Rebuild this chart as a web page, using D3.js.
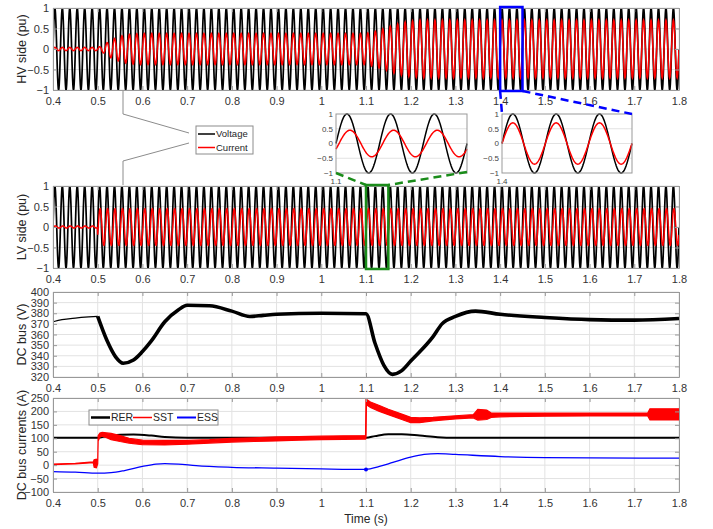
<!DOCTYPE html>
<html>
<head>
<meta charset="utf-8">
<script src="https://cdn.jsdelivr.net/npm/d3@7"></script>
<style>
  body { margin: 0; background: #fff; }
  svg { font-family: "Liberation Sans", Arial, sans-serif; }
</style>
</head>
<body>
<svg id="chart" width="713" height="529"></svg>
<script>
// ---- values ----
const xTicks = [0.4, 0.5, 0.6, 0.7, 0.8, 0.9, 1, 1.1, 1.2, 1.3, 1.4, 1.5, 1.6, 1.7, 1.8];
const puTicks = [-1, -0.5, 0, 0.5, 1];
const dcTicks = [320, 330, 340, 350, 360, 370, 380, 390, 400];
const curTicks = [-100, -50, 0, 50, 100, 150, 200, 250];

const gridFreq = 60; // Hz, the voltage is a unit sine

// HV side current amplitude (pu) over time, in phase with voltage
const hvCurTime = [0.4, 0.5, 0.51, 0.52, 0.53, 0.54, 0.55, 0.56, 0.58, 0.6, 1.1, 1.12, 1.14, 1.16, 1.18, 1.2, 1.22, 1.8];
const hvCurAmp  = [0.04, 0.04, 0.08, 0.15, 0.22, 0.27, 0.31, 0.34, 0.37, 0.38, 0.38, 0.43, 0.5, 0.58, 0.64, 0.68, 0.7, 0.7];

// LV side current amplitude (pu), lags voltage a little
const lvCurTime = [0.4, 0.4995, 0.5, 1.8];
const lvCurAmp  = [0.025, 0.025, 0.45, 0.45];
const lvCurLag = 25; // degrees

// DC bus voltage (V)
const dcTime = [0.4, 0.42, 0.45, 0.48, 0.5, 0.52, 0.54, 0.557, 0.58, 0.6, 0.62, 0.65, 0.68, 0.7, 0.75, 0.8, 0.84, 0.87, 0.9, 1.0, 1.1, 1.12, 1.14, 1.159, 1.18, 1.2, 1.25, 1.27, 1.3, 1.345, 1.4, 1.5, 1.6, 1.7, 1.8];
const dcVolt = [372, 374, 375.5, 376.5, 377, 355, 339, 333, 336, 344, 354, 372, 383, 387.5, 387, 382, 377, 378, 379, 380, 379.5, 352, 331, 322.5, 326, 335, 358, 370, 377, 382, 379, 376, 374, 373.5, 375];

// DC bus currents (A)
const rerTime = [0.4, 0.5, 0.52, 0.55, 0.58, 0.62, 0.65, 0.7, 1.1, 1.12, 1.15, 1.18, 1.22, 1.26, 1.3, 1.8];
const rerVal  = [102, 102, 108, 113, 114, 110, 105, 102, 102, 108, 115, 115, 110, 104, 102, 102];

// SST current is noisy: lower / upper edge of the band
const sstTime = [0.4, 0.45, 0.49, 0.492, 0.497, 0.5, 0.501, 0.505, 0.51, 0.52, 0.53, 0.55, 0.57, 0.6, 0.65, 0.7, 0.75, 0.8, 0.85, 0.9, 0.95, 1.0, 1.05, 1.099, 1.1, 1.101, 1.11, 1.13, 1.15, 1.18, 1.2, 1.22, 1.25, 1.3, 1.34, 1.35, 1.37, 1.38, 1.4, 1.5, 1.6, 1.7, 1.73, 1.735, 1.8];
const sstLow  = [2, 5, 9, -8, -10, 5, 90, 105, 108, 102, 95, 88, 82, 76, 75, 78, 82, 86, 88, 90, 93, 95, 96, 97, 100, 225, 215, 200, 188, 170, 158, 158, 165, 172, 176, 168, 170, 178, 180, 182, 183, 183, 183, 168, 168];
const sstHigh = [4, 7, 12, 20, 22, 15, 110, 120, 122, 120, 118, 110, 100, 93, 92, 92, 95, 100, 102, 105, 106, 108, 109, 110, 245, 245, 235, 222, 208, 190, 178, 176, 178, 184, 188, 208, 205, 194, 194, 194, 194, 194, 194, 210, 210];

const essTime = [0.4, 0.45, 0.5, 0.53, 0.56, 0.6, 0.63, 0.65, 0.68, 0.72, 0.8, 0.9, 1.0, 1.1, 1.13, 1.16, 1.2, 1.23, 1.26, 1.3, 1.4, 1.5, 1.6, 1.8];
const essVal  = [-24, -26, -30, -28, -20, -5, 4, 6, 4, -2, -8, -11, -14, -16, -5, 10, 30, 40, 43, 40, 32, 28, 27, 26];

// zoomed windows shown in the insets
const zoomLV = [1.1, 1.15];
const zoomHV = [1.4, 1.45];

// ---- layout ----
const FONT = '"Liberation Sans", Arial, sans-serif';
const svg = d3.select("#chart");
const x = d3.scaleLinear().domain([0.4, 1.8]).range([53, 679]);

const panels = {
    hv:  { top: 8,   bottom: 90,  domain: [-1, 1],     ticks: puTicks,  label: "HV side (pu)" },
    lv:  { top: 186, bottom: 268, domain: [-1, 1],     ticks: puTicks,  label: "LV side (pu)" },
    dc:  { top: 292, bottom: 377, domain: [320, 400],  ticks: dcTicks,  label: "DC bus (V)" },
    cur: { top: 398, bottom: 492, domain: [-100, 250], ticks: curTicks, label: "DC bus currents (A)" }
};

function sampleWave(t0, t1, ampAt, lagDeg, dt) {
    const n = Math.round((t1 - t0) / dt);
    return d3.range(n + 1).map(i => {
        const t = t0 + i * dt;
        return [t, ampAt(t) * Math.sin(2 * Math.PI * gridFreq * t - lagDeg * Math.PI / 180)];
    });
}
const unitAmp = () => 1;
const hvAmp = d3.scaleLinear().domain(hvCurTime).range(hvCurAmp).clamp(true);
const lvAmp = d3.scaleLinear().domain(lvCurTime).range(lvCurAmp).clamp(true);

// set up one panel: grid, clip, plot group
function setupPanel(id) {
    const p = panels[id];
    p.y = d3.scaleLinear().domain(p.domain).range([p.bottom, p.top]);
    svg.append("clipPath").attr("id", "clip-" + id)
        .append("rect")
        .attr("x", x.range()[0]).attr("y", p.top)
        .attr("width", x.range()[1] - x.range()[0]).attr("height", p.bottom - p.top);
    const grid = svg.append("g");
    grid.selectAll("line.gx").data(xTicks).join("line")
        .attr("x1", d => x(d)).attr("x2", d => x(d))
        .attr("y1", p.top).attr("y2", p.bottom)
        .attr("stroke", "#e2e2e2").attr("stroke-width", 1);
    grid.selectAll("line.gy").data(p.ticks).join("line")
        .attr("x1", x.range()[0]).attr("x2", x.range()[1])
        .attr("y1", d => p.y(d)).attr("y2", d => p.y(d))
        .attr("stroke", "#e2e2e2").attr("stroke-width", 1);
    p.plot = svg.append("g").attr("clip-path", "url(#clip-" + id + ")");
    return p;
}

// draw the box, ticks and tick labels on top
function frame(p, opts) {
    const styleAxis = g => {
        g.attr("font-family", FONT).attr("font-size", 11);
        g.select(".domain").attr("stroke", "#999");
        g.selectAll(".tick line").attr("stroke", "#999");
        g.selectAll(".tick text").attr("fill", "#333");
    };
    svg.append("g").attr("transform", `translate(0,${p.bottom})`)
        .call(d3.axisBottom(x).tickValues(xTicks).tickFormat(d3.format("~g"))
            .tickSizeInner(-4).tickSizeOuter(0).tickPadding(7))
        .call(styleAxis);
    svg.append("g").attr("transform", `translate(0,${p.top})`)
        .call(d3.axisTop(x).tickValues(xTicks).tickFormat("")
            .tickSizeInner(-4).tickSizeOuter(0))
        .call(styleAxis);
    svg.append("g").attr("transform", `translate(${x.range()[0]},0)`)
        .call(d3.axisLeft(p.y).tickValues(p.ticks).tickFormat(d3.format("~g"))
            .tickSizeInner(-4).tickSizeOuter(0).tickPadding(4))
        .call(styleAxis);
    svg.append("g").attr("transform", `translate(${x.range()[1]},0)`)
        .call(d3.axisRight(p.y).tickValues(p.ticks).tickFormat("")
            .tickSizeInner(-4).tickSizeOuter(0))
        .call(styleAxis);

    svg.append("text")
        .attr("transform", `translate(22,${(p.top + p.bottom) / 2}) rotate(-90)`)
        .attr("text-anchor", "middle").attr("dy", "0.35em")
        .attr("font-size", 12.5).attr("fill", "#262626")
        .text(p.label);
}

const line = (yScale) => d3.line().x(d => x(d[0])).y(d => yScale(d[1]));

// ---- HV panel ----
const hv = setupPanel("hv");
hv.plot.append("path")
    .attr("d", line(hv.y)(sampleWave(0.4, 1.8, unitAmp, 0, 1 / (gridFreq * 24))))
    .attr("fill", "none").attr("stroke", "#000").attr("stroke-width", 1.7);
hv.plot.append("path")
    .attr("d", line(hv.y)(sampleWave(0.4, 1.8, hvAmp, 0, 1 / (gridFreq * 24))))
    .attr("fill", "none").attr("stroke", "#ff0000").attr("stroke-width", 1.5);
frame(hv);

// ---- LV panel ----
const lv = setupPanel("lv");
lv.plot.append("path")
    .attr("d", line(lv.y)(sampleWave(0.4, 1.8, unitAmp, 0, 1 / (gridFreq * 24))))
    .attr("fill", "none").attr("stroke", "#000").attr("stroke-width", 1.7);
lv.plot.append("path")
    .attr("d", line(lv.y)(sampleWave(0.4, 1.8, lvAmp, lvCurLag, 1 / (gridFreq * 24))))
    .attr("fill", "none").attr("stroke", "#ff0000").attr("stroke-width", 1.5);

// ---- insets (drawn before LV frame so the LV plot covers their lower labels) ----
const insetTop = 114, insetBottom = 173;
const insets = [
    { t: zoomLV, x0: 336, x1: 467, amp: lvAmp, lag: lvCurLag },
    { t: zoomHV, x0: 502, x1: 632, amp: hvAmp, lag: 0 }
];
insets.forEach((ins, k) => {
    const ix = d3.scaleLinear().domain(ins.t).range([ins.x0, ins.x1]);
    const iy = d3.scaleLinear().domain([-1, 1]).range([insetBottom, insetTop]);
    const g = svg.append("g");
    g.append("rect").attr("x", ins.x0).attr("y", insetTop)
        .attr("width", ins.x1 - ins.x0).attr("height", insetBottom - insetTop)
        .attr("fill", "#fff");
    g.selectAll("line.grid").data([-0.5, 0, 0.5]).join("line")
        .attr("x1", ins.x0).attr("x2", ins.x1)
        .attr("y1", d => iy(d)).attr("y2", d => iy(d))
        .attr("stroke", "#e2e2e2");
    const il = d3.line().x(d => ix(d[0])).y(d => iy(d[1]));
    g.append("path").attr("d", il(sampleWave(ins.t[0], ins.t[1], unitAmp, 0, 1 / (gridFreq * 80))))
        .attr("fill", "none").attr("stroke", "#000").attr("stroke-width", 1.5);
    g.append("path").attr("d", il(sampleWave(ins.t[0], ins.t[1], ins.amp, ins.lag, 1 / (gridFreq * 80))))
        .attr("fill", "none").attr("stroke", "#ff0000").attr("stroke-width", 1.5);
    g.append("rect").attr("x", ins.x0).attr("y", insetTop)
        .attr("width", ins.x1 - ins.x0).attr("height", insetBottom - insetTop)
        .attr("fill", "none").attr("stroke", "#999");
    g.selectAll("text.yl").data(puTicks).join("text")
        .attr("x", ins.x0 - 3).attr("y", d => iy(d)).attr("dy", "0.35em")
        .attr("text-anchor", "end").attr("font-size", 8).attr("fill", "#444")
        .text(d3.format("~g"));
    g.append("text").attr("x", ins.x0).attr("y", insetBottom + 11)
        .attr("text-anchor", "middle").attr("font-size", 8).attr("fill", "#444")
        .text(d3.format("~g")(ins.t[0]));
});

// white strip so the LV panel overlaps inset x labels like the original
frame(lv);

// ---- legend for the voltage/current panels with its connector lines ----
const conn = svg.append("g").attr("fill", "none").attr("stroke", "#8c8c8c").attr("stroke-width", 1);
conn.append("polyline").attr("points", `123,${hv.bottom + 1} 123,114 189,133`);
conn.append("polyline").attr("points", `189,143 123,161 123,${lv.top - 1}`);
const leg1 = svg.append("g");
leg1.append("rect").attr("x", 196).attr("y", 126).attr("width", 57).attr("height", 28)
    .attr("fill", "#fff").attr("stroke", "#8c8c8c");
[["Voltage", "#000", 134], ["Current", "#ff0000", 147.5]].forEach(([name, col, yy]) => {
    leg1.append("line").attr("x1", 198).attr("x2", 215).attr("y1", yy).attr("y2", yy)
        .attr("stroke", col).attr("stroke-width", 1.5);
    leg1.append("text").attr("x", 216).attr("y", yy).attr("dy", "0.35em")
        .attr("font-size", 9.5).attr("fill", "#262626").text(name);
});

// ---- DC bus voltage ----
const dc = setupPanel("dc");
const dcPts = dcTime.map((t, i) => [t, dcVolt[i]]);
dc.plot.append("path")
    .attr("d", line(dc.y).curve(d3.curveMonotoneX)(dcPts.filter(d => d[0] <= 0.5)))
    .attr("fill", "none").attr("stroke", "#000").attr("stroke-width", 1.2);
dc.plot.append("path")
    .attr("d", line(dc.y).curve(d3.curveMonotoneX)(dcPts.filter(d => d[0] >= 0.5)))
    .attr("fill", "none").attr("stroke", "#000").attr("stroke-width", 3.6)
    .attr("stroke-linejoin", "round");
frame(dc);

// ---- DC bus currents ----
const cur = setupPanel("cur");
cur.plot.append("path")
    .attr("d", line(cur.y).curve(d3.curveMonotoneX)(rerTime.map((t, i) => [t, rerVal[i]])))
    .attr("fill", "none").attr("stroke", "#000").attr("stroke-width", 2);
cur.plot.append("path")
    .attr("d", d3.area().x(d => x(d.t)).y0(d => cur.y(d.lo)).y1(d => cur.y(d.hi))
        (sstTime.map((t, i) => ({ t: t, lo: sstLow[i], hi: sstHigh[i] }))))
    .attr("fill", "#ff0000").attr("stroke", "#ff0000").attr("stroke-width", 1.2);
cur.plot.append("path")
    .attr("d", line(cur.y).curve(d3.curveMonotoneX)(essTime.map((t, i) => [t, essVal[i]])))
    .attr("fill", "none").attr("stroke", "#0000ff").attr("stroke-width", 1.3);
cur.plot.append("circle")
    .attr("cx", x(1.1)).attr("cy", cur.y(essVal[essTime.indexOf(1.1)])).attr("r", 2)
    .attr("fill", "#0000ff");
frame(cur);

const leg2 = svg.append("g");
leg2.append("rect").attr("x", 89).attr("y", 410).attr("width", 129).attr("height", 15)
    .attr("fill", "#fff").attr("stroke", "#8c8c8c");
[["RER", "#000", 91, 2.5], ["SST", "#ff0000", 133, 1.5], ["ESS", "#0000ff", 177, 2]].forEach(([name, col, x0, w]) => {
    leg2.append("line").attr("x1", x0).attr("x2", x0 + 19).attr("y1", 417.5).attr("y2", 417.5)
        .attr("stroke", col).attr("stroke-width", w);
    leg2.append("text").attr("x", x0 + 20).attr("y", 417.5).attr("dy", "0.35em")
        .attr("font-size", 10.5).attr("fill", "#262626").text(name);
});

svg.append("text").attr("x", 366).attr("y", 519).attr("dy", "0.35em")
    .attr("text-anchor", "middle").attr("font-size", 12).attr("fill", "#262626")
    .text("Time (s)");

// ---- zoom boxes and dashed leaders ----
const zg = svg.append("g").attr("fill", "none");
zg.append("rect")
    .attr("x", x(zoomLV[0])).attr("y", lv.top - 1)
    .attr("width", x(zoomLV[1]) - x(zoomLV[0])).attr("height", lv.bottom - lv.top + 2)
    .attr("stroke", "#1a8c1a").attr("stroke-width", 2.5);
zg.append("rect")
    .attr("x", x(zoomHV[0])).attr("y", hv.top - 1)
    .attr("width", x(zoomHV[1]) - x(zoomHV[0])).attr("height", hv.bottom - hv.top + 2)
    .attr("stroke", "#0000ff").attr("stroke-width", 2.5);
const dashed = (x1, y1, x2, y2, col) => zg.append("line")
    .attr("x1", x1).attr("y1", y1).attr("x2", x2).attr("y2", y2)
    .attr("stroke", col).attr("stroke-width", 2.5).attr("stroke-dasharray", "8,5");
dashed(insets[0].x0, insetBottom, x(zoomLV[0]), lv.top - 1, "#1a8c1a");
dashed(insets[0].x1, insetBottom - 1, x(zoomLV[1]), lv.top - 1, "#1a8c1a");
dashed(x(zoomHV[0]), hv.bottom + 1, insets[1].x0, insetTop, "#0000ff");
dashed(x(zoomHV[1]), hv.bottom + 1, insets[1].x1, insetTop, "#0000ff");
</script>
</body>
</html>
